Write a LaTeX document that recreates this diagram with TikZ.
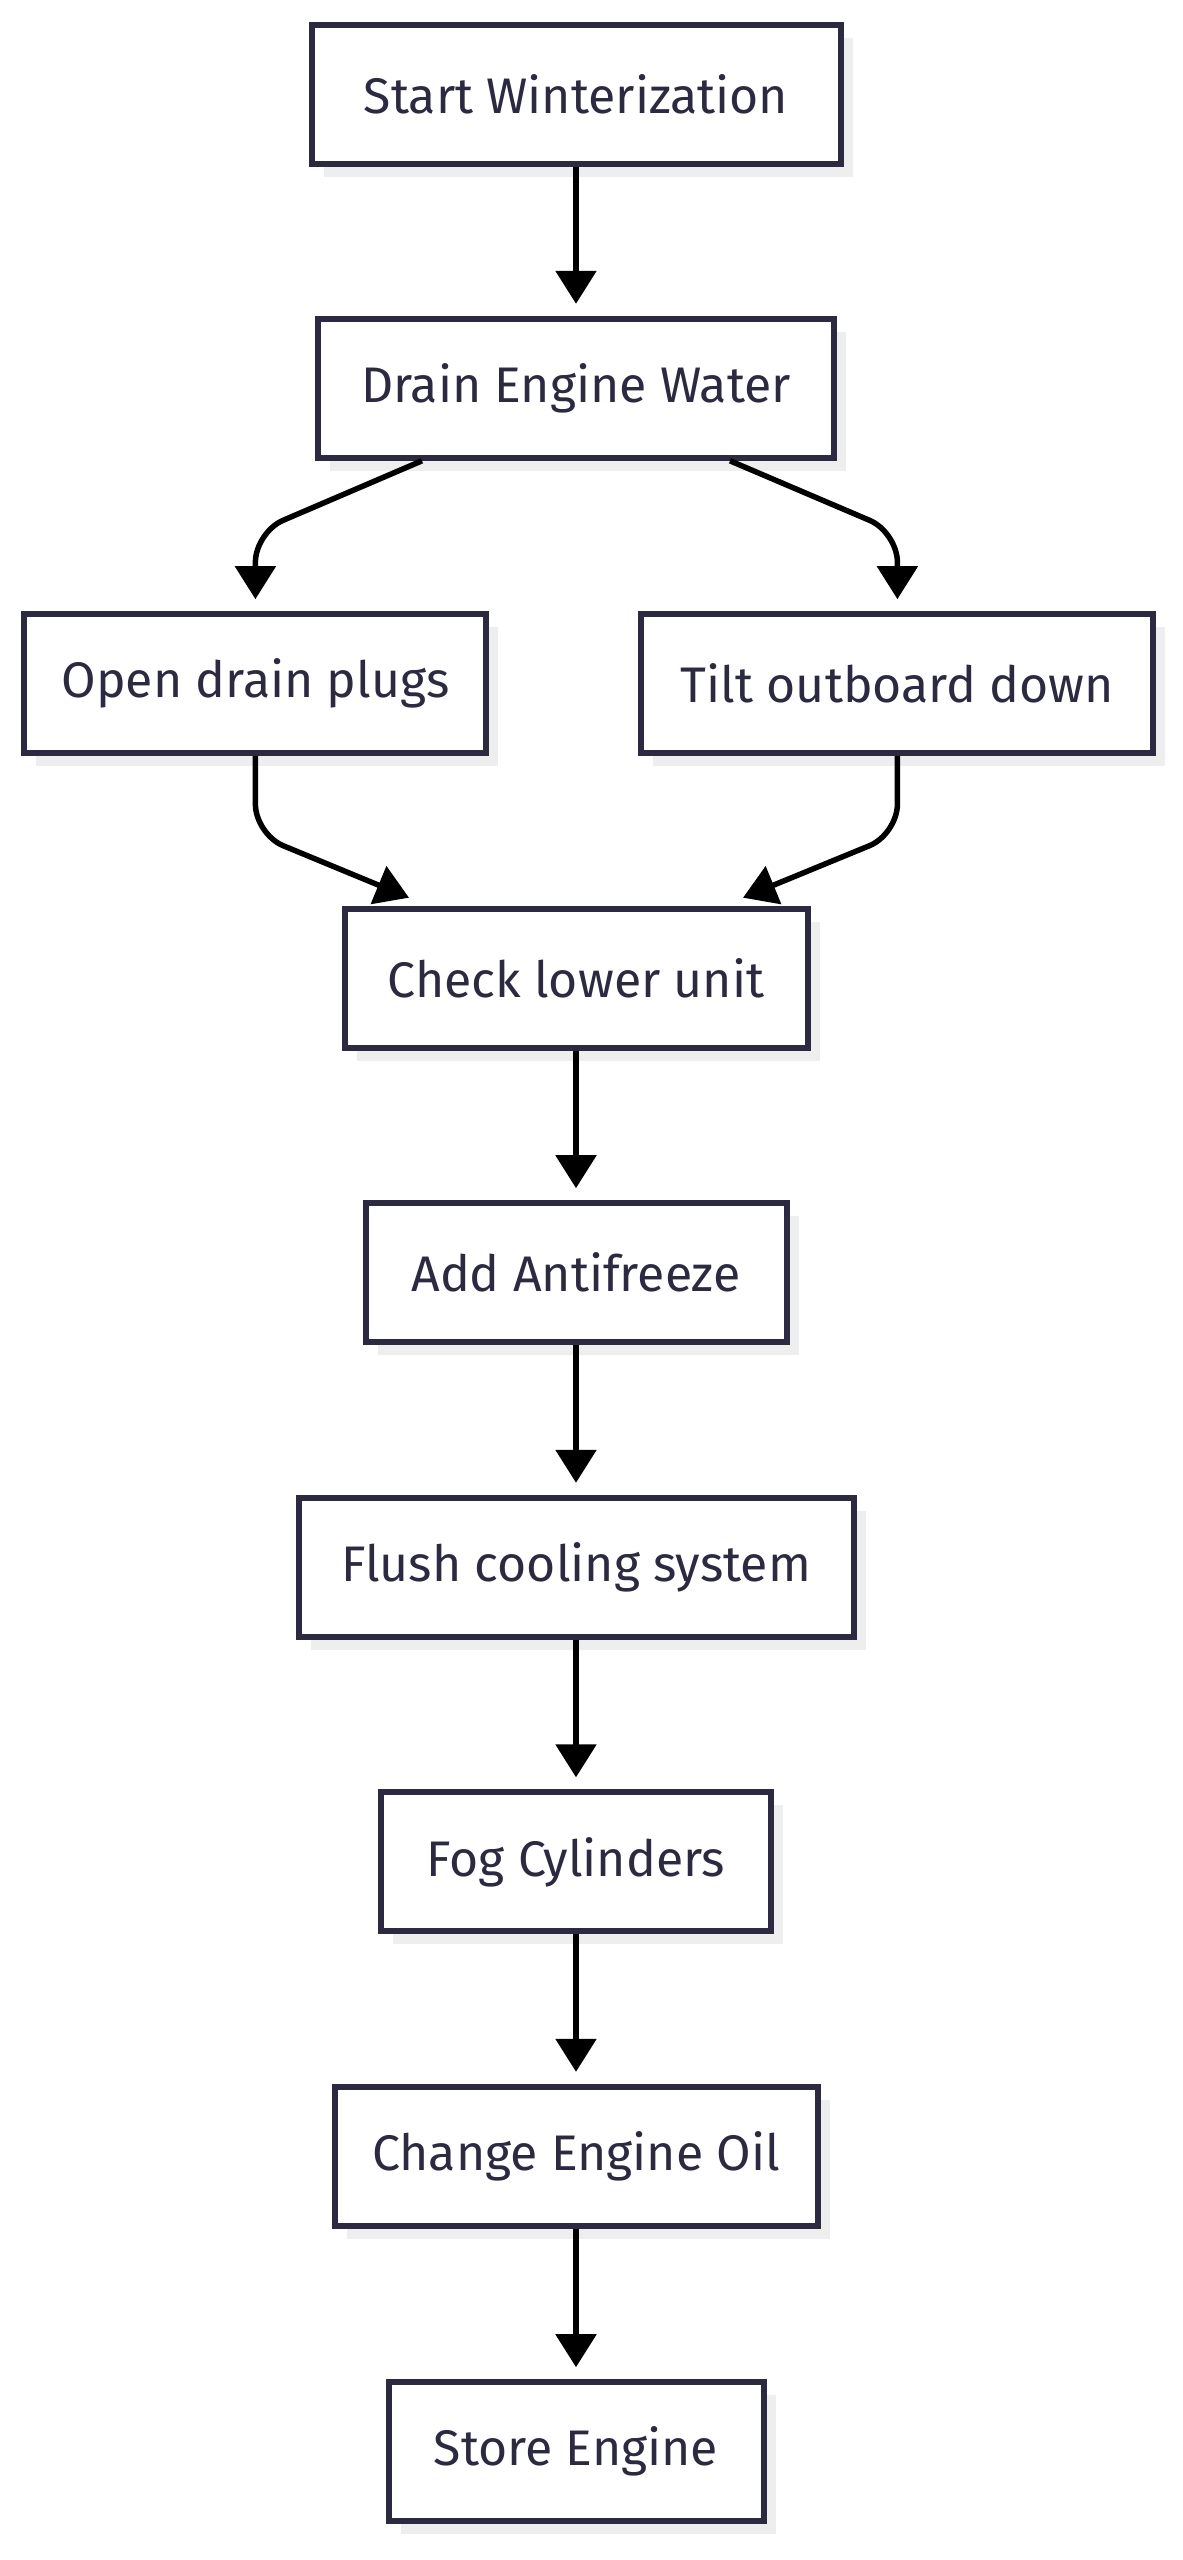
\documentclass[tikz,border=0pt]{standalone}
\usepackage{fontspec}
\setmainfont{Fira Sans}
\usetikzlibrary{arrows.meta,calc,shadows}
\definecolor{ink}{HTML}{2B2A40}
\definecolor{shade}{HTML}{EEEEEE}
\begin{document}
\begin{tikzpicture}[x=1pt,y=-1pt,
  box/.style={draw=ink, line width=6pt, fill=white, text=ink, minimum height=139pt, inner sep=0pt,
    font=\fontsize{50}{58}\selectfont,
    general shadow={fill=shade, shadow xshift=12pt, shadow yshift=-13pt}},
  link/.style={line width=5.5pt, draw=black, -{Triangle[width=40pt,length=33pt]}, rounded corners=30pt}]
\useasboundingbox (0,0) rectangle (1183,2560);
\node[box, minimum width=529pt] (start) at (576,94.6) {Start Winterization};
\node[box, minimum width=516pt] (drain) at (576,388.3) {Drain Engine Water};
\node[box, minimum width=462pt] (open) at (255.4,683.7) {Open drain plugs};
\node[box, minimum width=512pt] (tilt) at (897.4,683.7) {Tilt outboard down};
\node[box, minimum width=463pt] (check) at (576,978.2) {Check lower unit};
\node[box, minimum width=421pt] (add) at (576,1272.7) {Add Antifreeze};
\node[box, minimum width=555pt] (flush) at (576,1567.3) {Flush cooling system};
\node[box, minimum width=390pt] (fog) at (576,1861.8) {Fog Cylinders};
\node[box, minimum width=483pt] (oil) at (576,2156.3) {Change Engine Oil};
\node[box, minimum width=375pt] (store) at (576,2451.7) {Store Engine};

\draw[link, shorten >=12pt] (start.south) -- (drain.north);
\draw[link, shorten >=12pt] ([xshift=-154pt]drain.south) -- ($(open.north)+(0,-79)$) -- (open.north);
\draw[link, shorten >=12pt] ([xshift=154pt]drain.south) -- ($(tilt.north)+(0,-79)$) -- (tilt.north);
\draw[link] (open.south) -- ($(open.south)+(0,78)$) -- ($(check.north)+(-167,-8)$);
\draw[link] (tilt.south) -- ($(tilt.south)+(0,78)$) -- ($(check.north)+(167,-8)$);
\draw[link, shorten >=12pt] (check.south) -- (add.north);
\draw[link, shorten >=12pt] (add.south) -- (flush.north);
\draw[link, shorten >=12pt] (flush.south) -- (fog.north);
\draw[link, shorten >=12pt] (fog.south) -- (oil.north);
\draw[link, shorten >=12pt] (oil.south) -- (store.north);
\end{tikzpicture}
\end{document}
